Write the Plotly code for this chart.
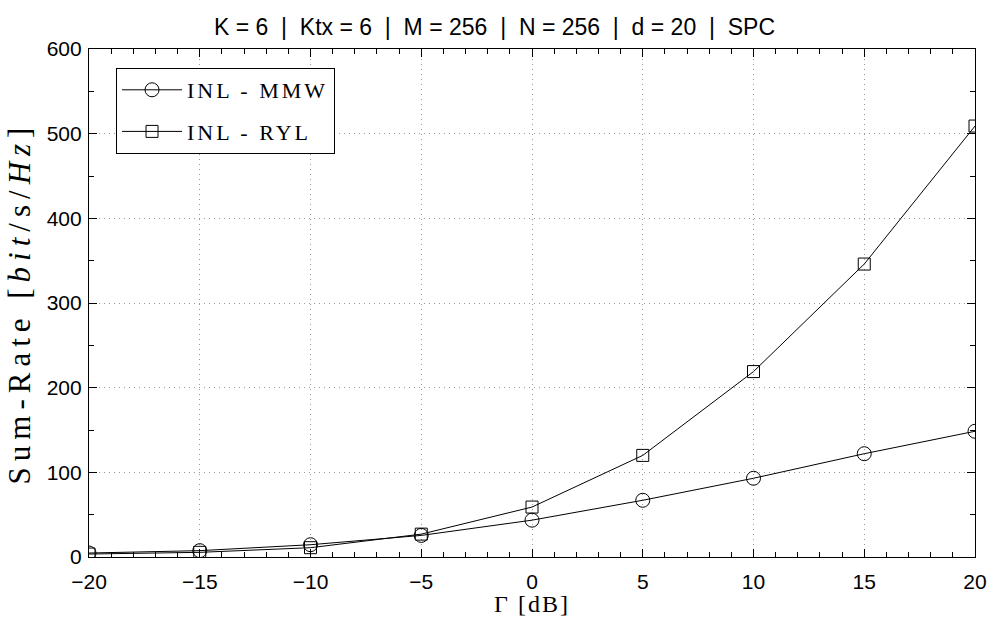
import plotly.graph_objects as go

gamma_db = [-20, -15, -10, -5, 0, 5, 10, 15, 20]
inl_mmw = [4.7, 7.5, 14.5, 25.5, 43.5, 67, 93, 122, 148.5]
inl_ryl = [3.5, 5.5, 11, 27, 59, 120, 219, 346, 509]

series_names = ["INL - MMW", "INL - RYL"]
title_text = "K = 6  |  Ktx = 6  |  M = 256  |  N = 256  |  d = 20  |  SPC"
x_label = "Γ [dB]"
y_label = "Sum-Rate [<i>bit</i>/s/<i>Hz</i>]"

x_range = [-20, 20]
y_range = [0, 600]

serif = "Liberation Serif, DejaVu Serif, serif"
sans = "Liberation Sans, Arial, sans-serif"


def spaced(text, px):
    return f'<span style="letter-spacing:{px}px">{text}</span>'


fig = go.Figure()
fig.add_trace(go.Scatter(
    x=gamma_db, y=inl_mmw, mode="lines+markers", name=spaced(series_names[0], 3),
    legendgroup="a",
    line=dict(color="black", width=1),
    marker=dict(symbol="circle-open", size=14, color="black", line=dict(width=1)),
))
fig.add_trace(go.Scatter(
    x=gamma_db, y=inl_ryl, mode="lines+markers", name=spaced(series_names[1], 3),
    legendgroup="b",
    line=dict(color="black", width=1),
    marker=dict(symbol="square-open", size=12, color="black", line=dict(width=1)),
))

axis_common = dict(
    showline=True, linecolor="black", linewidth=1.2, mirror="ticks",
    ticks="inside", ticklen=8, tickcolor="black", tickwidth=1.2,
    showgrid=True, gridcolor="#999999", griddash="1px,4px", gridwidth=1,
    zeroline=False, automargin=False,
    tickfont=dict(family=sans, size=21, color="black"),
)

fig.update_xaxes(
    range=x_range, tickmode="linear", tick0=0, dtick=5,
    minor=dict(ticks="inside", dtick=1, ticklen=5, tickcolor="black", tickwidth=1),
    ticklabelstandoff=6,
    title=dict(text=spaced(x_label, 2), font=dict(family=serif, size=24, color="black"), standoff=12),
    **axis_common,
)
fig.update_yaxes(
    range=y_range, tickmode="linear", tick0=0, dtick=100,
    minor=dict(ticks="inside", dtick=50, ticklen=5, tickcolor="black", tickwidth=1),
    ticklabelstandoff=2,
    title=dict(text=spaced(y_label, 6), font=dict(family=serif, size=31, color="black"), standoff=6),
    **axis_common,
)

fig.update_layout(
    width=989, height=617,
    margin=dict(l=89, r=14, t=49, b=60),
    paper_bgcolor="white", plot_bgcolor="white",
    title=dict(text=title_text, x=0.5, xanchor="center", y=1 - 27 / 617, yanchor="middle",
               font=dict(family=sans, size=23, color="black")),
    showlegend=True,
    legend=dict(
        x=0.0305, y=0.9626, xanchor="left", yanchor="top",
        bgcolor="white", bordercolor="black", borderwidth=1,
        font=dict(family=serif, size=22, color="black"),
        itemwidth=60, tracegroupgap=10,
    ),
)

fig.write_html("out.html")
